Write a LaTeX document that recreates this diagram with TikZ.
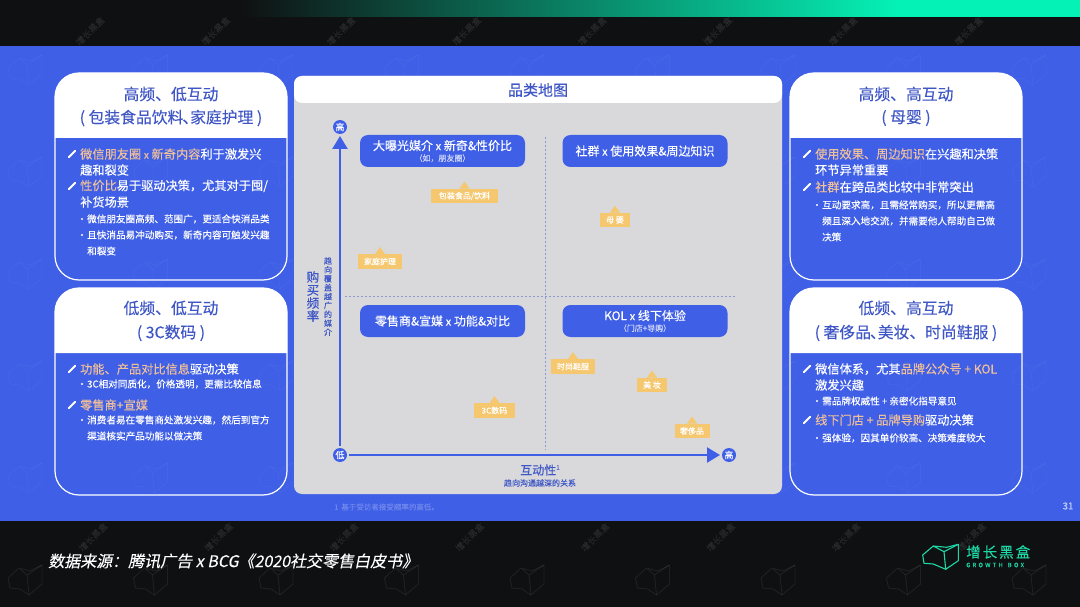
\documentclass[tikz,border=0pt]{standalone}
\usepackage{fontspec}
\setmainfont{Noto Sans CJK SC}[FakeBold=0.2]
\newfontfamily\slantfont{Noto Sans CJK SC}[FakeSlant=0.2,FakeBold=0.2]
\usetikzlibrary{arrows.meta}
\definecolor{bgblack}{HTML}{0F1012}
\definecolor{bgblue}{HTML}{3F5FE6}
\definecolor{headblue}{HTML}{3F57C6}
\definecolor{panelgrey}{HTML}{D9D9DB}
\definecolor{hlorange}{HTML}{EFC09A}
\definecolor{tagyellow}{HTML}{F5C76F}
\definecolor{teal}{HTML}{05F2B6}
\definecolor{logoteal}{HTML}{1ED8A6}
\definecolor{notelight}{HTML}{6E86EC}
\newcommand{\hl}[1]{\textcolor{hlorange}{#1}}
\newcommand{\fsz}[1]{\fontsize{#1}{#1}\selectfont}
\tikzset{
  headtext/.style={text=headblue,font=\fsz{15.8},inner sep=0pt},
  leadline/.style={anchor=west,text=white,font=\fsz{12.2},inner sep=0pt},
  subline/.style={anchor=west,text=white,font=\fsz{9.6},inner sep=0pt},
  pen/.style={white,line width=1.8pt,line cap=round},
  dotmark/.style={white},
  cardline/.style={white,line width=1.2pt,rounded corners=24pt},
  cardhead/.style={fill=white},
  quadbox/.style={fill=bgblue,rounded corners=8pt,minimum width=165pt,minimum height=32pt,inner sep=0pt,
    align=center,text=white,font=\fsz{12}},
  tagbox/.style={fill=tagyellow,text=white,font=\fsz{8},inner sep=0pt,minimum height=14.5pt},
  endpoint/.style={circle,fill=bgblue,text=white,font=\fsz{9},inner sep=0pt,minimum size=14pt,outer sep=2pt},
  axisline/.style={bgblue,line width=2.4pt,-{Triangle[length=13pt,width=15pt]}},
  quadrule/.style={headblue!50!panelgrey,line width=0.9pt,dash pattern=on 1.6pt off 2.4pt},
  wmark/.style={white,line width=0.9pt,line join=round},
  wmtext/.style={white,opacity=0.07,font=\fsz{9},rotate=45,inner sep=0pt}
}
\newcommand{\penmark}[2]{\draw[pen] (#1-3.2,#2+3.2) -- (#1+3.2,#2-3.2);}
\newcommand{\dotat}[2]{\fill[dotmark] (#1,#2) circle (1.1pt);}
\begin{document}
\begin{tikzpicture}[x=1pt,y=-1pt]
\useasboundingbox (0,0) rectangle (1080,607);
% bands
\fill[bgblack] (0,0) rectangle (1080,607);
\fill[bgblue] (0,46) rectangle (1080,521);
% watermark
\foreach \i in {0,...,8} {
  \foreach \j/\op in {0/0.03,1/0.03,2/0.03,3/0.03,4/0.03,5/0.07} {
    \begin{scope}[shift={({25+125.5*\i},{70+102*\j})}]
      \draw[wmark,opacity=\op] (-17,-2) -- (-6,-12) -- (5,-9) -- (17,-15) -- (17,4) -- (4,15) -- (2,-5) -- (-6,-12);
      \draw[wmark,opacity=\op] (-17,-2) -- (-15,8) -- (-5,9) -- (4,15);
      \draw[wmark,opacity=\op] (2,-5) -- (17,-15);
    \end{scope}
  }
}
\foreach \i in {0,...,7} {
  \node[wmtext] (wmtop\i) at ({90+125.5*\i},31) {增长黑盒};
  \node[wmtext] (wmlow\i) at ({93+125.5*\i},537) {增长黑盒};
}
% top bar
\fill[bgblack] (0,0) rectangle (240,17);
\shade[left color=bgblack,right color=teal,shading angle=90] (240,0) rectangle (900,17);
\fill[teal] (900,0) rectangle (1080,17);

% cards
\fill[cardhead] (55,138) -- (55,97) arc (180:270:24) -- (263,73) arc (270:360:24) -- (287,138) -- cycle;
\draw[cardline] (55,73) rectangle (287,280);
\fill[cardhead] (55,353) -- (55,312) arc (180:270:24) -- (263,288) arc (270:360:24) -- (287,353) -- cycle;
\draw[cardline] (55,288) rectangle (287,495);
\fill[cardhead] (790,138) -- (790,97) arc (180:270:24) -- (998,73) arc (270:360:24) -- (1022,138) -- cycle;
\draw[cardline] (790,73) rectangle (1022,280);
\fill[cardhead] (790,353) -- (790,312) arc (180:270:24) -- (998,288) arc (270:360:24) -- (1022,353) -- cycle;
\draw[cardline] (790,288) rectangle (1022,495);

% card top left
\node[headtext] (headA) at (171,94) {高频、低互动};
\node[headtext] (headAb) at (171,118) {( 包装食品饮料\hspace{-1pt}、\hspace{-8pt}家庭护理 )};
\penmark{72}{154}
\node[leadline] (leadA) at (80,154) {\hl{微信朋友圈} \hl{\fsz{10}x} \hl{新奇内容}利于激发兴};
\node[leadline] (leadAb) at (80,170) {趣和裂变};
\penmark{72}{186}
\node[leadline] (leadAc) at (80,186) {\hl{性价比}易于驱动决策，尤其对于囤/};
\node[leadline] (leadAd) at (80,202) {补货场景};
\dotat{82}{219}
\node[subline] (subA) at (87,219) {微信朋友圈高频、范围广，更适合快消品类};
\dotat{82}{235}
\node[subline] (subAb) at (87,235) {且快消品易冲动购买，新奇内容可触发兴趣};
\node[subline] (subAc) at (87,251) {和裂变};

% card bottom left
\node[headtext] (headB) at (171,308) {低频、低互动};
\node[headtext] (headBb) at (171,333) {( 3C数码 )};
\penmark{72}{369}
\node[leadline] (leadB) at (80,369) {\hl{功能、产品对比信息}驱动决策};
\dotat{82}{384}
\node[subline] (subB) at (87,384) {3C相对同质化，价格透明，更需比较信息};
\penmark{72}{405}
\node[leadline] (leadBb) at (80,405) {\hl{零售商+宣媒}};
\dotat{82}{420}
\node[subline] (subBb) at (87,420) {消费者易在零售商处激发兴趣，然后到官方};
\node[subline] (subBc) at (87,436) {渠道核实产品功能以做决策};

% card top right
\node[headtext] (headC) at (906,94) {高频、高互动};
\node[headtext] (headCb) at (906,118) {( 母婴 )};
\penmark{807}{154}
\node[leadline] (leadC) at (815,154) {\hl{使用效果、周边知识}在兴趣和决策};
\node[leadline] (leadCb) at (815,170) {环节异常重要};
\penmark{807}{187}
\node[leadline] (leadCc) at (815,187) {\hl{社群}在跨品类比较中非常突出};
\dotat{817}{205}
\node[subline] (subC) at (822,205) {互动要求高，且需经常购买，所以更需高};
\node[subline] (subCb) at (822,221) {频且深入地交流，并需要他人帮助自己做};
\node[subline] (subCc) at (822,237) {决策};

% card bottom right
\node[headtext] (headD) at (906,308) {低频、高互动};
\node[headtext] (headDb) at (906,333) {( 奢侈品\hspace{-1pt}、\hspace{-8pt}美妆、时尚鞋服 )};
\penmark{807}{369}
\node[leadline] (leadD) at (815,369) {微信体系，尤其\hl{品牌公众号 + KOL}};
\node[leadline] (leadDb) at (815,385) {激发兴趣};
\dotat{817}{401}
\node[subline] (subD) at (822,401) {需品牌权威性 + 亲密化指导意见};
\penmark{807}{420}
\node[leadline] (leadDc) at (815,420) {\hl{线下门店 + 品牌导购}驱动决策};
\dotat{817}{438}
\node[subline] (subDb) at (822,438) {强体验，因其单价较高、决策难度较大};

% center panel
\fill[panelgrey,rounded corners=8pt] (294,76) rectangle (782,494);
\fill[white,rounded corners=8pt] (294,76) rectangle (782,103);
\node[text=headblue,font=\fsz{15},inner sep=0pt] (maptitle) at (538,90) {品类地图};

% quadrant rules
\coordinate (ruleW) at (345,296);
\coordinate (ruleE) at (735,296);
\coordinate (ruleN) at (545,137);
\coordinate (ruleS) at (545,450);
\draw[quadrule] (ruleW) -- (ruleE);
\draw[quadrule] (ruleN) -- (ruleS);

% axes
\node[endpoint] (low) at (340,455) {低};
\node[endpoint] (highy) at (340,127) {高};
\node[endpoint] (highx) at (729,455) {高};
\draw[axisline] (low) -- (highy);
\draw[axisline] (low) -- (highx);

% axis labels
\node[text=headblue,font=\fontsize{12.5}{13}\selectfont,align=center,inner sep=0pt] (ylabel) at (313,296.5)
  {购\\买\\频\\率};
\node[text=headblue,font=\fontsize{8}{8.9}\selectfont,align=center,inner sep=0pt] (ynote) at (328,296.5)
  {趋\\向\\覆\\盖\\越\\广\\的\\媒\\介};
\node[text=headblue,font=\fsz{12},inner sep=0pt] (xlabel) at (540,470) {互动性\raisebox{5pt}{\fsz{6}1}};
\node[text=headblue,font=\fsz{8},inner sep=0pt] (xnote) at (540,483) {趋向沟通越深的关系};

% quadrant boxes
\node[quadbox] (quadA) at (442.5,151) {大曝光媒介 {\fsz{11}x} 新奇\&性价比\\[-1pt]{\fsz{8}\textcolor{white!75!bgblue}{（如，朋友圈）}}};
\node[quadbox] (quadB) at (645,151) {社群 {\fsz{11}x} 使用效果\&周边知识};
\node[quadbox] (quadC) at (442.5,321) {零售商\&宣媒 {\fsz{11}x} 功能\&对比};
\node[quadbox] (quadD) at (645,321) {KOL {\fsz{11}x} 线下体验\\[-1pt]{\fsz{8}\textcolor{white!75!bgblue}{（门店+导购）}}};

% tags
\node[tagbox,minimum width=67pt] (tagA) at (464.5,196) {包装食品/饮料};
\fill[tagyellow] (tagA.north) ++(-5,0) -- ++(5,-7) -- ++(5,7) -- cycle;
\node[tagbox,minimum width=44pt] (tagB) at (380,261.5) {家庭护理};
\fill[tagyellow] (tagB.north) ++(-5,0) -- ++(5,-7) -- ++(5,7) -- cycle;
\node[tagbox,minimum width=30pt] (tagC) at (615,220) {母 婴};
\fill[tagyellow] (tagC.north) ++(-5,0) -- ++(5,-7) -- ++(5,7) -- cycle;
\node[tagbox,minimum width=41pt] (tagD) at (494.5,410.5) {3C数码};
\fill[tagyellow] (tagD.north) ++(-5,0) -- ++(5,-7) -- ++(5,7) -- cycle;
\node[tagbox,minimum width=44pt] (tagE) at (573,366.5) {时尚鞋服};
\fill[tagyellow] (tagE.north) ++(-5,0) -- ++(5,-7) -- ++(5,7) -- cycle;
\node[tagbox,minimum width=30pt] (tagF) at (652,385) {美 妆};
\fill[tagyellow] (tagF.north) ++(-5,0) -- ++(5,-7) -- ++(5,7) -- cycle;
\node[tagbox,minimum width=35pt] (tagG) at (692,431) {奢侈品};
\fill[tagyellow] (tagG.north) ++(-5,0) -- ++(5,-7) -- ++(5,7) -- cycle;

% footnote and page number
\node[anchor=west,text=notelight,font=\fsz{7.5},inner sep=0pt] (footnote) at (334,507) {1\hspace{3pt}基于受访者接受频率的高低。};
\node[text=white!70!bgblue,font=\fsz{9.5},inner sep=0pt] (pagenum) at (1068,506) {31};

% source
\node[anchor=west,text=white,font=\slantfont\fsz{16},inner sep=0pt] (source) at (48,561) {数据来源：腾讯广告 x BCG《2020社交零售白皮书》};

% logo
\draw[logoteal,line width=1.1pt,line join=round] (922.7,555) -- (933.3,546) -- (946.7,547.3) -- (958.3,544.3) -- (958.3,560.7) -- (945.7,569.3) -- (944,551.7) -- (933.3,546);
\draw[logoteal,line width=1.1pt,line join=round] (922.7,555) -- (924,563.3) -- (933.3,564) -- (945.7,569.3);
\draw[logoteal,line width=1.1pt] (944,551.7) -- (958.3,544.3);
\node[anchor=west,text=logoteal,font=\fsz{14.5},inner sep=0pt] (logotext) at (966,552) {增\hspace{2pt}长\hspace{2pt}黑\hspace{2pt}盒};
\node[anchor=west,text=logoteal,font=\fsz{6},inner sep=0pt] (logosub) at (966,565) {G\hspace{2.2pt}R\hspace{2.2pt}O\hspace{2.2pt}W\hspace{2.2pt}T\hspace{2.2pt}H\hspace{5pt}B\hspace{2.2pt}O\hspace{2.2pt}X};
\end{tikzpicture}
\end{document}
